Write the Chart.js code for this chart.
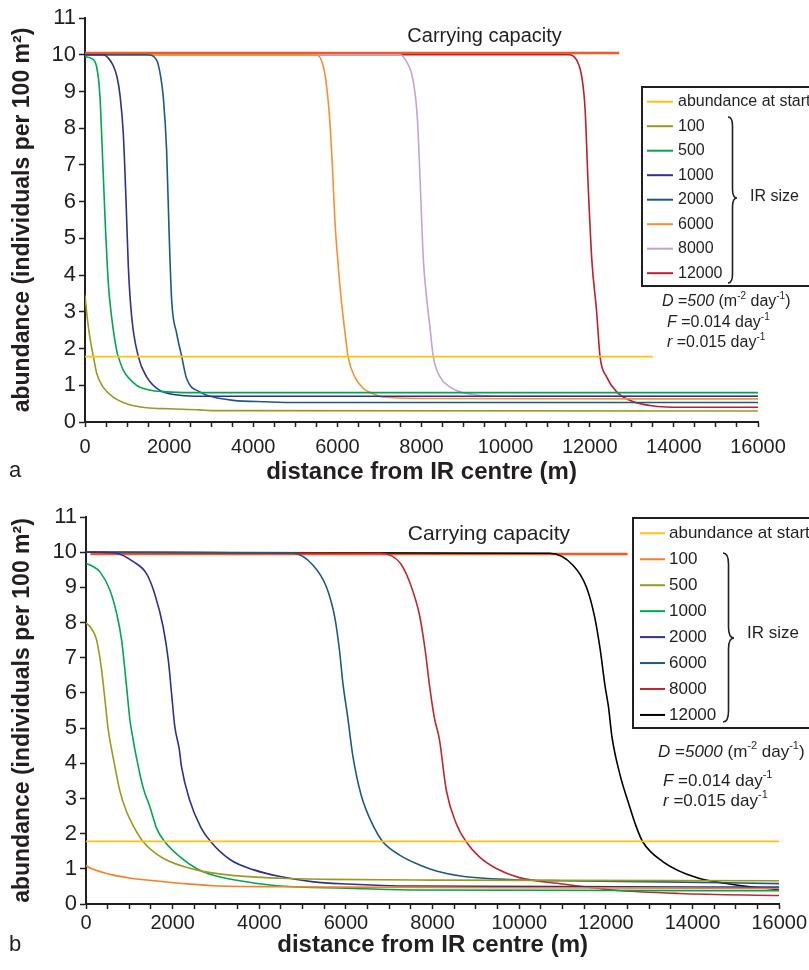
<!DOCTYPE html>
<html>
<head>
<meta charset="utf-8">
<script src="https://cdn.jsdelivr.net/npm/chart.js@4.4.1/dist/chart.umd.min.js"></script>
<style>
	body { margin: 0; background: #fff; }
	canvas { display: block; }
</style>
</head>
<body>
<canvas id="graficoA" width="809" height="490"></canvas>
<canvas id="graficoB" width="809" height="480"></canvas>
<script>
// values: [distance (m), abundance per 100 m2]
var xTicksLabelled = [0, 2000, 4000, 6000, 8000, 10000, 12000, 14000, 16000];
var irSizes = ['100', '500', '1000', '2000', '6000', '8000', '12000'];

// panel a, D = 500
var aStart = [[0, 1.78], [13500, 1.78]];
var aCapacity = [[0, 10.05], [12700, 10.05]];
var a100 = [[0, 3.45], [60, 2.77], [130, 2.2], [200, 1.78], [280, 1.32], [430, 0.95], [670, 0.68], [990, 0.5], [1470, 0.39], [2000, 0.36], [2730, 0.33], [3000, 0.31], [16000, 0.3]];
var a500 = [[0, 9.95], [150, 9.9], [275, 9.68], [356, 8.86], [395, 7.86], [475, 5.59], [554, 3.78], [633, 2.86], [752, 1.95], [792, 1.78], [910, 1.41], [1227, 1.0], [1500, 0.88], [1940, 0.82], [2500, 0.8], [16000, 0.8]];
var a1000 = [[0, 10], [435, 10], [560, 9.9], [673, 9.7], [760, 9.4], [832, 8.9], [910, 7.86], [975, 6.04], [1030, 4.23], [1110, 2.86], [1268, 1.78], [1465, 1.23], [1780, 0.86], [2256, 0.73], [2800, 0.7], [16000, 0.7]];
var a2000 = [[0, 10], [1465, 10], [1700, 9.86], [1800, 9.4], [1860, 8.86], [1940, 7.41], [2000, 5.14], [2060, 3.32], [2180, 2.41], [2300, 1.78], [2414, 1.19], [2730, 0.82], [3050, 0.68], [3520, 0.59], [4310, 0.55], [5000, 0.53], [16000, 0.53]];
var a6000 = [[0, 10], [5500, 10], [5620, 9.85], [5700, 9.5], [5800, 8.5], [5880, 7], [5940, 5.5], [6010, 4.4], [6095, 3.3], [6213, 2.14], [6253, 1.78], [6413, 1.23], [6610, 0.92], [6847, 0.77], [7085, 0.68], [8000, 0.64], [16000, 0.63]];
var a8000 = [[0, 10], [7490, 10], [7650, 9.8], [7800, 9.3], [7900, 8.3], [7960, 6.8], [8000, 5.6], [8045, 4.4], [8120, 3.4], [8200, 2.59], [8280, 1.78], [8440, 1.23], [8680, 0.95], [8915, 0.82], [9390, 0.73], [10000, 0.7], [16000, 0.7]];
var a12000 = [[0, 10], [11490, 10], [11690, 9.85], [11810, 9.4], [11890, 8.5], [11960, 6.5], [12050, 4.4], [12160, 3.05], [12245, 1.78], [12400, 1.23], [12640, 0.82], [13040, 0.55], [13430, 0.45], [13830, 0.41], [14500, 0.4], [16000, 0.4]];

// panel b, D = 5000
var bStart = [[0, 1.78], [16000, 1.78]];
var bCapacity = [[100, 9.95], [12500, 9.95]];
var b100 = [[0, 1.1], [15, 1.08], [250, 0.95], [630, 0.82], [1000, 0.74], [1400, 0.68], [2170, 0.59], [2940, 0.52], [4480, 0.49], [6010, 0.48], [10000, 0.46], [16000, 0.44]];
var b500 = [[0, 7.99], [80, 7.9], [245, 7.5], [360, 6.65], [438, 5.8], [514, 4.95], [590, 4.4], [668, 3.9], [784, 3.2], [937, 2.62], [1100, 2.2], [1320, 1.77], [1780, 1.3], [2550, 0.97], [3320, 0.82], [4480, 0.73], [5630, 0.7], [8000, 0.68], [16000, 0.66]];
var b1000 = [[0, 9.68], [150, 9.6], [322, 9.44], [553, 8.92], [707, 8.26], [822, 7.5], [937, 6.17], [1014, 5.23], [1090, 4.66], [1130, 4.38], [1320, 3.3], [1476, 2.76], [1630, 2.15], [1820, 1.77], [2170, 1.34], [2550, 1.01], [2940, 0.82], [3700, 0.63], [4480, 0.51], [6010, 0.45], [7540, 0.4], [16000, 0.38]];
var b2000 = [[0, 10], [700, 9.97], [1090, 9.73], [1396, 9.39], [1590, 8.8], [1780, 7.88], [1900, 6.93], [1975, 5.98], [2050, 5.04], [2150, 4.42], [2205, 3.9], [2380, 3.0], [2650, 2.18], [2880, 1.77], [3340, 1.25], [3875, 0.97], [4480, 0.78], [5250, 0.63], [6010, 0.57], [7540, 0.51], [16000, 0.48]];
var b6000 = [[0, 10], [4780, 9.97], [5240, 9.63], [5550, 9.01], [5740, 8.16], [5850, 7.22], [5930, 6.27], [6040, 5.32], [6160, 4.2], [6350, 3.1], [6660, 2.15], [6850, 1.77], [7240, 1.39], [7700, 1.11], [8085, 0.94], [8720, 0.78], [9870, 0.69], [11020, 0.66], [13320, 0.63], [16000, 0.58]];
var b8000 = [[0, 10], [6800, 9.97], [7260, 9.68], [7500, 9.05], [7700, 8.2], [7830, 7.2], [7930, 6.2], [8040, 5.3], [8160, 4.66], [8315, 3.24], [8545, 2.29], [8775, 1.77], [9080, 1.34], [9470, 1.01], [10000, 0.75], [11000, 0.57], [12150, 0.4], [13690, 0.3], [16000, 0.24]];
var b12000 = [[0, 10], [10700, 9.97], [11240, 9.63], [11550, 9.01], [11740, 8.16], [11870, 7.22], [11980, 6.2], [12060, 5.6], [12140, 4.75], [12320, 3.7], [12540, 2.8], [12700, 2.2], [12850, 1.77], [13320, 1.2], [14090, 0.75], [14860, 0.57], [16000, 0.4]];

var TEXT = '#231f20';
var FAMILY = '"Liberation Sans", Arial, sans-serif';
var NARROW = '"Liberation Sans Narrow", "Liberation Sans", Arial, sans-serif';

Chart.defaults.font.family = FAMILY;
Chart.defaults.color = TEXT;

function pontos(arr) {
	return arr.map(function(p) { return { x: p[0], y: p[1] }; });
}

function serie(label, arr, cor, largura, naLegenda) {
	return {
		label: label,
		data: pontos(arr),
		borderColor: cor,
		backgroundColor: cor,
		borderWidth: largura || 1.6,
		pointRadius: 0,
		cubicInterpolationMode: 'monotone',
		fill: false,
		inLegend: naLegenda !== false
	};
}

function textoRico(ctx, x, y, partes, size) {
	partes.forEach(function(p) {
		var s = p.sup ? Math.round(size * 0.62) : size;
		ctx.font = (p.it ? 'italic ' : '') + s + 'px ' + FAMILY;
		ctx.fillText(p.t, x, p.sup ? y - size * 0.33 : y);
		x += ctx.measureText(p.t).width;
	});
}

function chave(ctx, x, top, bottom, tipY, w) {
	var r = w / 2;
	ctx.beginPath();
	ctx.moveTo(x, top);
	ctx.quadraticCurveTo(x + r, top, x + r, top + r * 2);
	ctx.lineTo(x + r, tipY - r * 2);
	ctx.quadraticCurveTo(x + r, tipY, x + w, tipY);
	ctx.quadraticCurveTo(x + r, tipY, x + r, tipY + r * 2);
	ctx.lineTo(x + r, bottom - r * 2);
	ctx.quadraticCurveTo(x + r, bottom, x, bottom);
	ctx.stroke();
}

// legend box, brace, parameter notes and panel letter
function legendaIR(cfg) {
	return {
		id: 'legendaIR',
		afterDraw: function(chart) {
			var ctx = chart.ctx;
			var b = cfg.box;
			ctx.save();
			ctx.fillStyle = '#fff';
			ctx.fillRect(b[0], b[1], b[2] - b[0], b[3] - b[1]);
			ctx.strokeStyle = TEXT;
			ctx.lineWidth = 2;
			ctx.strokeRect(b[0], b[1], b[2] - b[0], b[3] - b[1]);

			ctx.textBaseline = 'middle';
			ctx.textAlign = 'left';
			var itens = chart.data.datasets.filter(function(d) { return d.inLegend; });
			itens.forEach(function(d, i) {
				var y = cfg.rowTop + i * cfg.rowStep;
				ctx.strokeStyle = d.borderColor;
				ctx.lineWidth = 2;
				ctx.beginPath();
				ctx.moveTo(cfg.swatch[0], y);
				ctx.lineTo(cfg.swatch[1], y);
				ctx.stroke();
				ctx.fillStyle = TEXT;
				ctx.font = cfg.size + 'px ' + FAMILY;
				ctx.fillText(d.label, cfg.textX, y);
			});

			ctx.strokeStyle = TEXT;
			ctx.lineWidth = 1.6;
			chave(ctx, cfg.brace[0], cfg.brace[1], cfg.brace[2], cfg.brace[3], cfg.brace[4]);
			ctx.fillStyle = TEXT;
			ctx.font = cfg.size + 'px ' + FAMILY;
			ctx.fillText('IR size', cfg.irSize[0], cfg.irSize[1]);

			cfg.notas.forEach(function(n) {
				textoRico(ctx, n.x, n.y, n.partes, cfg.size);
			});

			var xs = chart.scales.x, ys = chart.scales.y;
			ctx.textAlign = 'center';
			ctx.font = cfg.capSize + 'px ' + FAMILY;
			ctx.fillText('Carrying capacity', xs.getPixelForValue(cfg.cap[0]), ys.getPixelForValue(cfg.cap[1]));

			ctx.textAlign = 'left';
			ctx.font = '22px ' + FAMILY;
			ctx.fillText(cfg.letra, 9, cfg.letraY);
			ctx.restore();
		}
	};
}

function opcoes(eixoY, eixoX, padding, tickPad, titlePad) {
	return {
		responsive: false,
		animation: false,
		events: [],
		layout: { padding: padding },
		plugins: { legend: { display: false }, tooltip: { enabled: false } },
		scales: {
			x: {
				type: 'linear',
				min: 0,
				max: 16000,
				afterFit: function(s) { s.height = eixoX; },
				border: { color: TEXT, width: 2 },
				grid: { drawOnChartArea: false, tickLength: 5, tickColor: TEXT, tickWidth: 1.5 },
				ticks: {
					stepSize: 500,
					autoSkip: false,
					maxRotation: 0,
					padding: tickPad,
					font: { family: NARROW, size: 20 },
					callback: function(v) { return xTicksLabelled.indexOf(v) >= 0 ? String(v) : ''; }
				},
				title: {
					display: true,
					text: 'distance from IR centre (m)',
					font: { size: 24, weight: 'bold' },
					padding: { top: 0, bottom: titlePad }
				}
			},
			y: {
				min: 0,
				max: 11,
				afterFit: function(s) { s.width = eixoY; },
				border: { color: TEXT, width: 2 },
				grid: { drawOnChartArea: false, tickLength: 6, tickColor: TEXT, tickWidth: 1.5 },
				ticks: { stepSize: 1, padding: 3, font: { size: 22 } },
				title: {
					display: true,
					text: 'abundance (individuals per 100 m²)',
					font: { size: 23, weight: 'bold' },
					padding: { top: 9, bottom: 0 }
				}
			}
		}
	};
}

var coresA = ['#9a9a1e', '#00a651', '#2e3192', '#1b5a87', '#f7902e', '#c4a2d6', '#be1e2d'];
var coresB = ['#f58025', '#9a9a1e', '#00a651', '#2e3192', '#1b5a87', '#c1272d', '#000000'];
var seriesA = [a100, a500, a1000, a2000, a6000, a8000, a12000];
var seriesB = [b100, b500, b1000, b2000, b6000, b8000, b12000];

function montaDatasets(inicio, capacidade, series, cores) {
	var ds = [serie('abundance at start', inicio, '#ffc20e', 1.6)];
	series.forEach(function(s, i) {
		ds.push(serie(irSizes[i], s, cores[i], 1.6));
	});
	ds.push(serie('Carrying capacity', capacidade, '#f15a22', 2.5, false));
	return ds;
}

new Chart(document.getElementById('graficoA').getContext('2d'), {
	type: 'line',
	data: { datasets: montaDatasets(aStart, aCapacity, seriesA, coresA) },
	options: opcoes(85, 68, { left: 0, right: 51, top: 18, bottom: 0 }, 8, 3),
	plugins: [legendaIR({
		box: [642, 87, 812, 286],
		rowTop: 101.7,
		rowStep: 24.5,
		swatch: [647, 673],
		textX: 678,
		size: 16,
		brace: [728, 117, 283, 198, 9],
		irSize: [750, 197],
		notas: [
			{ x: 662, y: 302, partes: [{ t: 'D', it: 1 }, { t: ' =' }, { t: '500', it: 1 }, { t: ' (m' }, { t: '-2', sup: 1 }, { t: ' day' }, { t: '-1', sup: 1 }, { t: ')' }] },
			{ x: 667, y: 323, partes: [{ t: 'F', it: 1 }, { t: ' =0.014 day' }, { t: '-1', sup: 1 }] },
			{ x: 667, y: 343, partes: [{ t: 'r', it: 1 }, { t: ' =0.015 day' }, { t: '-1', sup: 1 }] }
		],
		cap: [9500, 10.5],
		capSize: 20,
		letra: 'a',
		letraY: 471
	})]
});

new Chart(document.getElementById('graficoB').getContext('2d'), {
	type: 'line',
	data: { datasets: montaDatasets(bStart, bCapacity, seriesB, coresB) },
	options: opcoes(86, 66, { left: 0, right: 29, top: 27, bottom: 0 }, 2, 10),
	plugins: [legendaIR({
		box: [633, 28, 812, 238],
		rowTop: 43.3,
		rowStep: 25.95,
		swatch: [640, 665],
		textX: 669,
		size: 17,
		brace: [723, 63, 232, 148, 11],
		irSize: [747, 143],
		notas: [
			{ x: 658, y: 262, partes: [{ t: 'D', it: 1 }, { t: ' =' }, { t: '5000', it: 1 }, { t: ' (m' }, { t: '-2', sup: 1 }, { t: ' day' }, { t: '-1', sup: 1 }, { t: ')' }] },
			{ x: 663, y: 291, partes: [{ t: 'F', it: 1 }, { t: ' =0.014 day' }, { t: '-1', sup: 1 }] },
			{ x: 663, y: 311, partes: [{ t: 'r', it: 1 }, { t: ' =0.015 day' }, { t: '-1', sup: 1 }] }
		],
		cap: [9300, 10.5],
		capSize: 21,
		letra: 'b',
		letraY: 455
	})]
});
</script>
</body>
</html>
